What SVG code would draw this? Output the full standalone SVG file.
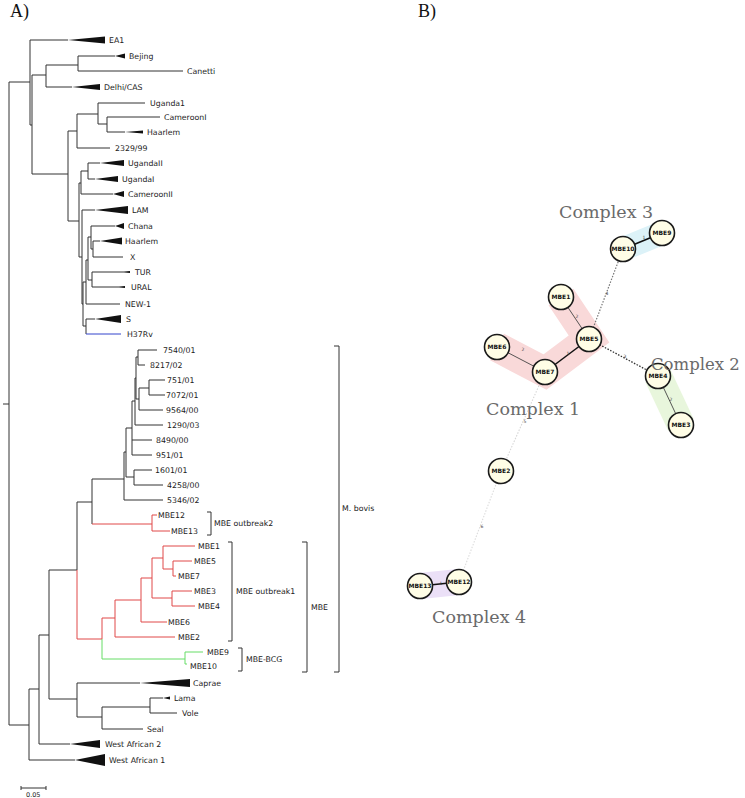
<svg xmlns="http://www.w3.org/2000/svg" width="745" height="798" viewBox="0 0 745 798">
<style>
.br{fill:none;stroke:#333;stroke-width:1}
.red{fill:none;stroke:#e04848;stroke-width:1}
.grn{fill:none;stroke:#66dd66;stroke-width:1}
.blu{fill:none;stroke:#3344cc;stroke-width:1}
.t{font-family:"DejaVu Sans",Verdana,sans-serif;font-size:7.8px;fill:#222}
.tri{fill:#111}
.hd{font-family:"Liberation Serif","Times New Roman",serif;font-size:18px;fill:#111}
.cx{font-family:"DejaVu Serif","Liberation Serif",serif;font-size:17.5px;fill:#6a6a6a}
.nc{fill:#fffde6;stroke:#1a1a1a;stroke-width:1.6}
.nl{font-family:"DejaVu Sans",sans-serif;font-size:6px;font-weight:bold;fill:#111;text-anchor:middle}
.el{font-family:"DejaVu Sans",sans-serif;font-size:4.5px;fill:#444;text-anchor:middle}
.band{fill:none;stroke-linecap:butt;stroke-linejoin:miter}
</style>
<rect width="745" height="798" fill="#fff"/>
<text class="hd" x="10" y="17">A)</text>
<text class="hd" x="418" y="17">B)</text>
<g id="tree-connectors">
<path class="br" d="M3,404 H9 M9,82 V725 M9,82 H30 M30,40 V125 M30,40 H68 M30,125 H32 M32,75 V174 M32,75 H46 M46,65 V87 M46,65 H78 M78,56 V71 M78,56 H115 M78,71 H183 M46,87 H72 M32,174 H68 M68,131 V221 M68,131 H77 M77,114 V148 M77,114 H98 M98,103 V124 M98,103 H145 M98,124 H107 M107,117 V132 M107,117 H160 M107,132 H125 M77,148 H110 M68,221 H79 M79,183 V257 M79,183 H81 M81,171 V194 M81,171 H88 M88,163 V179 M88,163 H100 M88,179 H95 M81,194 H113 M79,257 H82 M82,210 V304 M82,210 H95 M82,304 H83 M83,282 V326 M83,282 H86 M86,260 V304 M86,304 H120 M86,260 H88 M88,237 V280 M88,237 H91 M91,226 V249 M91,226 H115 M91,249 H93 M93,241 V257 M93,241 H100 M93,257 H123 M88,280 H92 M92,272 V287 M92,272 H130 M92,287 H125 M83,326 H86 M86,319 V334 M86,319 H95"/>
<path class="blu" d="M86,334 H121"/>
<path class="br" d="M9,725 H29 M29,689 V760 M29,760 H75 M29,689 H39 M39,635 V744 M39,744 H70 M39,635 H49 M49,570 V699 M49,699 H77 M77,683 V717 M77,683 H140 M77,717 H102 M102,707 V729 M102,729 H143 M102,707 H150 M150,698 V713 M150,698 H163 M150,713 H177 M49,570 H77 M77,502 V570 M77,502 H92 M92,479 V524 M92,479 H124 M124,452 V500 M124,500 H163 M124,452 H126 M126,428 V477 M126,477 H134 M134,470 V485 M134,470 H152 M134,485 H163 M126,428 H132 M132,401 V455 M132,440 H152 M132,455 H152 M132,401 H135 M135,378 V425 M135,425 H163 M135,378 H136 M136,357 V399 M136,357 H138 M138,350 V365 M138,350 H157 M138,365 H145 M136,399 H139 M139,388 V410 M139,410 H163 M139,388 H149 M149,380 V395 M149,380 H165 M149,395 H165"/>
<path class="red" d="M92,524 H152 M152,515 V531 M152,515 H157 M152,531 H170 M77,570 V639 M77,639 H102 M102,618 V639 M102,618 H115 M115,600 V637 M115,637 H175 M115,600 H141 M141,578 V622 M141,622 H167 M141,578 H152 M152,558 V598 M152,558 H163 M163,546 V569 M163,546 H195 M163,569 H173 M173,561 V576 M173,561 H192 M173,576 H176 M152,598 H172 M172,591 V606 M172,591 H192 M172,606 H195"/>
<path class="grn" d="M102,639 V659 M102,659 H185 M185,652 V664 M185,652 H203 M185,664 H187"/>
<path class="br" d="M207,512 H211 V535 H207 M228,542 H232 V641 H228 M238,648 H242 V671 H238 M302,542 H307 V672 H302 M334,346 H339 V672 H334"/>
<path class="br" d="M21,786 V790 M21,788 H46 M46,786 V790"/>
</g>
<g id="tree-leaves">
<g id="leaf-ea1"><polygon class="tri" points="68,40 105,36.5 105,43.5"/><text class="t" x="109" y="43">EA1</text></g>
<g id="leaf-bejing"><polygon class="tri" points="115,56 125,53.5 125,58.5"/><text class="t" x="129" y="59">Bejing</text></g>
<g id="leaf-canetti"><text class="t" x="187" y="74">Canetti</text></g>
<g id="leaf-delhi"><polygon class="tri" points="72,87 100,84 100,90"/><text class="t" x="104" y="90">Delhi/CAS</text></g>
<g id="leaf-uganda1"><text class="t" x="150" y="106">Uganda1</text></g>
<g id="leaf-cameroonI"><text class="t" x="164" y="120">CameroonI</text></g>
<g id="leaf-haarlem1"><polygon class="tri" points="125,132 143,130.5 143,133.5"/><text class="t" x="147" y="135">Haarlem</text></g>
<g id="leaf-2329"><text class="t" x="115" y="151">2329/99</text></g>
<g id="leaf-ugandaII"><polygon class="tri" points="100,163 124,160 124,166"/><text class="t" x="128" y="166">UgandaII</text></g>
<g id="leaf-ugandaI"><polygon class="tri" points="95,179 118,176 118,182"/><text class="t" x="122" y="182">UgandaI</text></g>
<g id="leaf-cameroonII"><polygon class="tri" points="113,194 124,191 124,197"/><text class="t" x="128" y="197">CameroonII</text></g>
<g id="leaf-lam"><polygon class="tri" points="95,210 128,206 128,214"/><text class="t" x="132" y="213">LAM</text></g>
<g id="leaf-chana"><polygon class="tri" points="115,226 124,223 124,229"/><text class="t" x="128" y="229">Chana</text></g>
<g id="leaf-haarlem2"><polygon class="tri" points="100,241 122,237.5 122,244.5"/><text class="t" x="125" y="244">Haarlem</text></g>
<g id="leaf-x"><text class="t" x="130" y="260">X</text></g>
<g id="leaf-tur"><polygon class="tri" points="124,272 130,271 130,273"/><text class="t" x="135" y="275">TUR</text></g>
<g id="leaf-ural"><polygon class="tri" points="119,287 125,286 125,288"/><text class="t" x="131" y="290">URAL</text></g>
<g id="leaf-new1"><text class="t" x="125" y="307">NEW-1</text></g>
<g id="leaf-s"><polygon class="tri" points="95,319 121,315 121,323"/><text class="t" x="126" y="322">S</text></g>
<g id="leaf-h37rv"><text class="t" x="127" y="337">H37Rv</text></g>
<g id="leaf-7540"><text class="t" x="163" y="353">7540/01</text></g>
<g id="leaf-8217"><text class="t" x="150" y="368">8217/02</text></g>
<g id="leaf-751"><text class="t" x="167" y="383">751/01</text></g>
<g id="leaf-7072"><text class="t" x="166" y="398">7072/01</text></g>
<g id="leaf-9564"><text class="t" x="166" y="413">9564/00</text></g>
<g id="leaf-1290"><text class="t" x="167" y="428">1290/03</text></g>
<g id="leaf-8490"><text class="t" x="156" y="443">8490/00</text></g>
<g id="leaf-951"><text class="t" x="156" y="458">951/01</text></g>
<g id="leaf-1601"><text class="t" x="155" y="473">1601/01</text></g>
<g id="leaf-4258"><text class="t" x="167" y="488">4258/00</text></g>
<g id="leaf-5346"><text class="t" x="167" y="503">5346/02</text></g>
<g id="leaf-mbe12"><text class="t" x="158" y="518">MBE12</text></g>
<g id="leaf-mbe13"><text class="t" x="171" y="534">MBE13</text></g>
<g id="leaf-mbe1"><text class="t" x="198" y="549">MBE1</text></g>
<g id="leaf-mbe5"><text class="t" x="194" y="564">MBE5</text></g>
<g id="leaf-mbe7"><text class="t" x="178" y="579">MBE7</text></g>
<g id="leaf-mbe3"><text class="t" x="194" y="594">MBE3</text></g>
<g id="leaf-mbe4"><text class="t" x="198" y="609">MBE4</text></g>
<g id="leaf-mbe6"><text class="t" x="168" y="625">MBE6</text></g>
<g id="leaf-mbe2"><text class="t" x="178" y="640">MBE2</text></g>
<g id="leaf-mbe9"><text class="t" x="207" y="655">MBE9</text></g>
<g id="leaf-mbe10"><text class="t" x="190" y="669">MBE10</text></g>
<g id="leaf-caprae"><polygon class="tri" points="140,683 190,679 190,687"/><text class="t" x="193" y="686">Caprae</text></g>
<g id="leaf-lama"><polygon class="tri" points="163,698 170,696.5 170,699.5"/><text class="t" x="174" y="701">Lama</text></g>
<g id="leaf-vole"><text class="t" x="182" y="716">Vole</text></g>
<g id="leaf-seal"><text class="t" x="147" y="732">Seal</text></g>
<g id="leaf-wa2"><polygon class="tri" points="70,744 100,740 100,748"/><text class="t" x="105" y="747">West African 2</text></g>
<g id="leaf-wa1"><polygon class="tri" points="75,760 105,754 105,766"/><text class="t" x="109" y="763">West African 1</text></g>
<g id="brackets-labels">
<text class="t" x="214" y="526">MBE outbreak2</text>
<text class="t" x="236" y="594">MBE outbreak1</text>
<text class="t" x="246" y="662">MBE-BCG</text>
<text class="t" x="311" y="610">MBE</text>
<text class="t" x="342" y="511">M. bovis</text>
</g>
<text class="t" x="26" y="797" style="font-size:6.5px">0.05</text>
</g>
<g id="complex-bands">
<polyline class="band" stroke="#f9d9d9" stroke-width="30" points="497,347 545,372 589,339 561,297"/>
<polyline class="band" stroke="#e8f6dc" stroke-width="28" points="658,376 681,425"/>
<polyline class="band" stroke="#dcf2f8" stroke-width="24" points="623,249 662,233"/>
<polyline class="band" stroke="#ebe0f7" stroke-width="26" points="420,586 459,582"/>
</g>
<g id="network-connectors">
<line x1="623" y1="249" x2="662" y2="233" stroke="#111" stroke-width="1.4"/>
<line x1="561" y1="297" x2="589" y2="339" stroke="#444" stroke-width="0.9"/>
<line x1="497" y1="347" x2="545" y2="372" stroke="#444" stroke-width="0.9"/>
<line x1="545" y1="372" x2="589" y2="339" stroke="#111" stroke-width="1.5"/>
<line x1="589" y1="339" x2="623" y2="249" stroke="#777" stroke-width="1.2" stroke-dasharray="1.5,1.5"/>
<line x1="589" y1="339" x2="658" y2="376" stroke="#333" stroke-width="1.3" stroke-dasharray="1.5,1.5"/>
<line x1="658" y1="376" x2="681" y2="425" stroke="#444" stroke-width="0.9"/>
<line x1="545" y1="372" x2="501" y2="471" stroke="#d6d6d6" stroke-width="1.1" stroke-dasharray="1.5,1.5"/>
<line x1="501" y1="471" x2="459" y2="582" stroke="#dcdcdc" stroke-width="1.1" stroke-dasharray="1.5,1.5"/>
<line x1="420" y1="586" x2="459" y2="582" stroke="#111" stroke-width="1.5"/>
<text class="el" x="644" y="239">1</text>
<text class="el" x="577" y="318">2</text>
<text class="el" x="523" y="351">2</text>
<text class="el" x="568" y="355">1</text>
<text class="el" x="607" y="295">4</text>
<text class="el" x="625" y="358">3</text>
<text class="el" x="671" y="401">2</text>
<text class="el" x="525" y="423">5</text>
<text class="el" x="482" y="528">6</text>
<text class="el" x="441" y="585">1</text>
</g>
<g id="node-MBE10"><circle class="nc" cx="623" cy="249" r="12.5"/><text class="nl" x="623" y="251.2">MBE10</text></g>
<g id="node-MBE9"><circle class="nc" cx="662" cy="233" r="12.5"/><text class="nl" x="662" y="235.2">MBE9</text></g>
<g id="node-MBE1"><circle class="nc" cx="561" cy="297" r="12.5"/><text class="nl" x="561" y="299.2">MBE1</text></g>
<g id="node-MBE5"><circle class="nc" cx="589" cy="339" r="12.5"/><text class="nl" x="589" y="341.2">MBE5</text></g>
<g id="node-MBE6"><circle class="nc" cx="497" cy="347" r="12.5"/><text class="nl" x="497" y="349.2">MBE6</text></g>
<g id="node-MBE7"><circle class="nc" cx="545" cy="372" r="12.5"/><text class="nl" x="545" y="374.2">MBE7</text></g>
<g id="node-MBE4"><circle class="nc" cx="658" cy="376" r="12.5"/><text class="nl" x="658" y="378.2">MBE4</text></g>
<g id="node-MBE3"><circle class="nc" cx="681" cy="425" r="12.5"/><text class="nl" x="681" y="427.2">MBE3</text></g>
<g id="node-MBE2"><circle class="nc" cx="501" cy="471" r="12.5"/><text class="nl" x="501" y="473.2">MBE2</text></g>
<g id="node-MBE12"><circle class="nc" cx="459" cy="582" r="12.5"/><text class="nl" x="459" y="584.2">MBE12</text></g>
<g id="node-MBE13"><circle class="nc" cx="420" cy="586" r="12.5"/><text class="nl" x="420" y="588.2">MBE13</text></g>
<g id="complex-labels">
<text class="cx" x="559" y="218">Complex 3</text>
<text class="cx" x="651" y="370" style="font-size:16.5px">Complex 2</text>
<text class="cx" x="486" y="415">Complex 1</text>
<text class="cx" x="432" y="623">Complex 4</text>
</g>
</svg>
